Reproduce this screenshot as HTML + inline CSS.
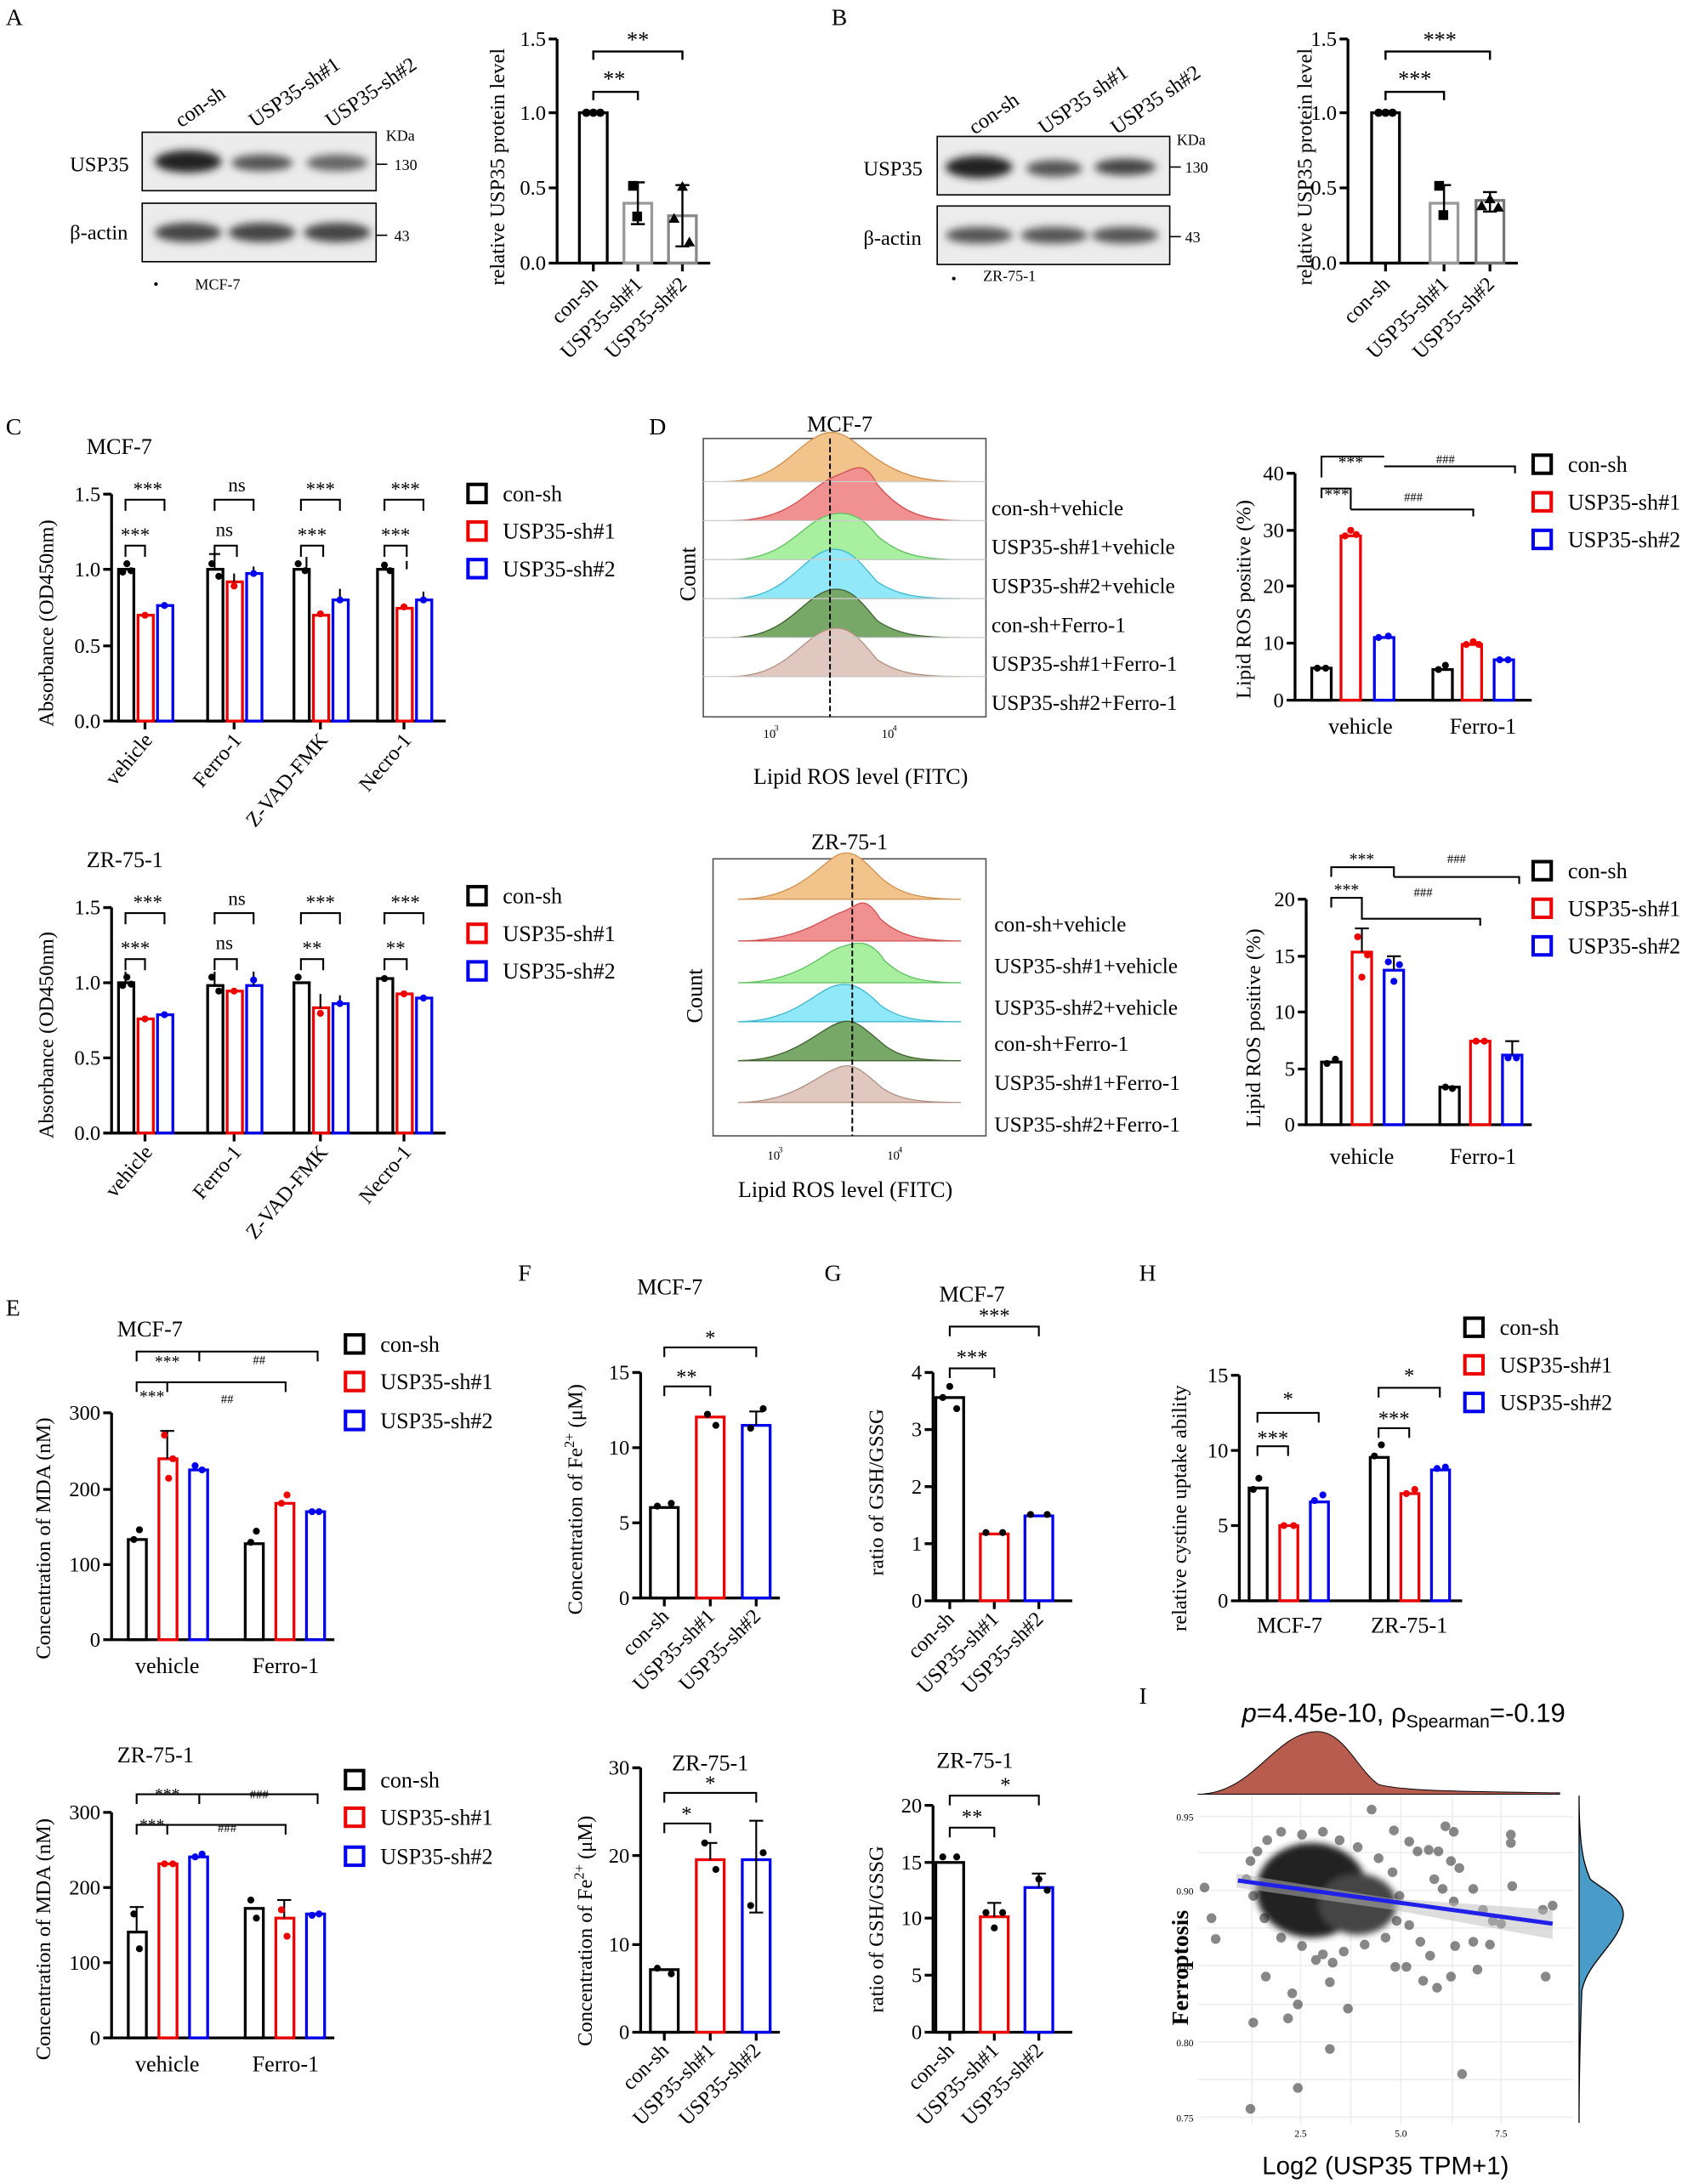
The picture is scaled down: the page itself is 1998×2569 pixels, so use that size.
<!DOCTYPE html>
<html><head><meta charset="utf-8"><style>
html,body{margin:0;padding:0;background:#fff}
svg{display:block}
text{font-family:"Liberation Serif",serif;fill:#000}
.s{font-family:"Liberation Sans",sans-serif}
</style></head><body>
<svg width="1998" height="2569" viewBox="0 0 1220 1569" xmlns="http://www.w3.org/2000/svg">
<defs>
<filter id="bl"><feGaussianBlur stdDeviation="3"/></filter>
<filter id="bl2"><feGaussianBlur stdDeviation="2.5"/></filter>
</defs>
<g font-size="17">
<text x="4" y="18">A</text><text x="597" y="18">B</text><text x="4" y="312">C</text>
<text x="466" y="312">D</text><text x="4" y="945">E</text><text x="372" y="920">F</text>
<text x="592" y="920">G</text><text x="818" y="920">H</text><text x="818" y="1224">I</text>
</g>

<!-- A blot -->
<g font-size="15">
<text transform="translate(130,92) rotate(-35)">con-sh</text>
<text transform="translate(183,92) rotate(-35)">USP35-sh#1</text>
<text transform="translate(238,92) rotate(-35)">USP35-sh#2</text>
<text x="50" y="123">USP35</text><text x="50" y="172">β-actin</text>
<text x="277" y="101" font-size="11">KDa</text><text x="283" y="122" font-size="11">130</text><text x="283" y="173" font-size="11">43</text>
<text x="140" y="208" font-size="11">MCF-7</text><text x="110" y="208" font-size="11">•</text>
</g>
<rect x="102" y="95" width="168" height="42" fill="#ececec" stroke="#000"/>
<rect x="102" y="146" width="168" height="42" fill="#ececec" stroke="#000"/>
<g filter="url(#bl)" fill="#222">
<ellipse cx="135" cy="116" rx="24" ry="8"/><ellipse cx="188" cy="117" rx="22" ry="6" fill="#555"/><ellipse cx="242" cy="117" rx="22" ry="6" fill="#666"/>
<ellipse cx="135" cy="167" rx="24" ry="7" fill="#444"/><ellipse cx="188" cy="167" rx="24" ry="7" fill="#444"/><ellipse cx="242" cy="167" rx="24" ry="7" fill="#444"/>
</g>
<g stroke="#000"><line x1="270" y1="118" x2="278" y2="118"/><line x1="270" y1="169" x2="278" y2="169"/></g>

<!-- A chart -->
<g stroke="#000" stroke-width="2" fill="none">
<path d="M400 28V189H510"/><path d="M394 28H400M394 81H400M394 135H400M394 189H400"/>
<path d="M426 189v6M458 189v6M490 189v6"/>
<rect x="416" y="81" width="20" height="108"/>
<rect x="448" y="146" width="20" height="43" stroke="#999"/>
<rect x="480" y="155" width="20" height="34" stroke="#888"/>
<path d="M458 131v30M453 131h10M453 161h10M490 133v44M485 133h10M485 177h10" stroke-width="1.5"/>
<path d="M426 72v-6h32v6M426 43v-6h64v6" stroke-width="1.5"/>
</g>
<g fill="#000"><circle cx="421" cy="81" r="3"/><circle cx="426" cy="81" r="3"/><circle cx="431" cy="81" r="3"/>
<rect x="451" y="130" width="7" height="7"/><rect x="454" y="152" width="7" height="7"/><polygon points="490,130 494,137 486,137"/><polygon points="484,153 488,160 480,160"/><polygon points="495,170 499,177 491,177"/></g>
<g font-size="15" text-anchor="end"><text x="392" y="33">1.5</text><text x="392" y="86">1.0</text><text x="392" y="140">0.5</text><text x="392" y="194">0.0</text></g>
<text font-size="15" transform="translate(362,205) rotate(-90)">relative USP35 protein level</text>
<text x="441" y="62" font-size="16" text-anchor="middle">**</text><text x="458" y="34" font-size="16" text-anchor="middle">**</text>
<g font-size="15" text-anchor="end"><text transform="translate(430,205) rotate(-45)">con-sh</text><text transform="translate(462,205) rotate(-45)">USP35-sh#1</text><text transform="translate(494,205) rotate(-45)">USP35-sh#2</text></g>

<!-- B blot -->
<g font-size="15">
<text transform="translate(700,97) rotate(-35)">con-sh</text>
<text transform="translate(750,97) rotate(-35)">USP35 sh#1</text>
<text transform="translate(802,97) rotate(-35)">USP35 sh#2</text>
<text x="620" y="126">USP35</text><text x="620" y="176">β-actin</text>
<text x="845" y="104" font-size="11">KDa</text><text x="851" y="124" font-size="11">130</text><text x="851" y="174" font-size="11">43</text>
<text x="706" y="202" font-size="11">ZR-75-1</text><text x="683" y="204" font-size="11">•</text>
</g>
<rect x="673" y="98" width="167" height="42" fill="#ececec" stroke="#000"/>
<rect x="673" y="148" width="167" height="42" fill="#ececec" stroke="#000"/>
<g filter="url(#bl)" fill="#222">
<ellipse cx="703" cy="120" rx="24" ry="8"/><ellipse cx="757" cy="121" rx="20" ry="6" fill="#555"/><ellipse cx="808" cy="120" rx="22" ry="6" fill="#444"/>
<ellipse cx="703" cy="169" rx="24" ry="6" fill="#555"/><ellipse cx="757" cy="169" rx="24" ry="6" fill="#555"/><ellipse cx="808" cy="169" rx="24" ry="6" fill="#555"/>
</g>
<g stroke="#000"><line x1="840" y1="120" x2="848" y2="120"/><line x1="840" y1="170" x2="848" y2="170"/></g>

<!-- B chart -->
<g stroke="#000" stroke-width="2" fill="none">
<path d="M968 28V189H1090"/><path d="M962 28H968M962 81H968M962 135H968M962 189H968"/>
<path d="M995 189v6M1037 189v6M1070 189v6"/>
<rect x="985" y="81" width="20" height="108"/>
<rect x="1027" y="146" width="20" height="43" stroke="#999"/>
<rect x="1060" y="144" width="20" height="45" stroke="#777"/>
<path d="M1037 133v25M1032 133h10M1070 138v14M1065 138h10M1065 152h10" stroke-width="1.5"/>
<path d="M995 72v-6h42v6M995 43v-6h75v6" stroke-width="1.5"/>
</g>
<g fill="#000"><circle cx="990" cy="81" r="3"/><circle cx="995" cy="81" r="3"/><circle cx="1000" cy="81" r="3"/>
<rect x="1030" y="130" width="7" height="7"/><rect x="1033" y="151" width="7" height="7"/><polygon points="1070,139 1074,146 1066,146"/><polygon points="1064,144 1068,151 1060,151"/><polygon points="1076,145 1080,152 1072,152"/></g>
<g font-size="15" text-anchor="end"><text x="960" y="33">1.5</text><text x="960" y="86">1.0</text><text x="960" y="140">0.5</text><text x="960" y="194">0.0</text></g>
<text font-size="15" transform="translate(942,205) rotate(-90)">relative USP35 protein level</text>
<text x="1016" y="62" font-size="16" text-anchor="middle">***</text><text x="1034" y="34" font-size="16" text-anchor="middle">***</text>
<g font-size="15" text-anchor="end"><text transform="translate(999,205) rotate(-45)">con-sh</text><text transform="translate(1041,205) rotate(-45)">USP35-sh#1</text><text transform="translate(1074,205) rotate(-45)">USP35-sh#2</text></g>

<!-- C top -->
<text x="62" y="326" font-size="16">MCF-7</text>
<g stroke="#000" stroke-width="2" fill="none">
<path d="M80 355V518H320"/><path d="M74 355H80M74 409H80M74 464H80M74 518H80"/>
<path d="M104 518v6M168 518v6M230 518v6M290 518v6"/>
<rect x="85" y="409" width="11" height="109"/><rect x="99" y="442" width="11" height="76" stroke="#e00"/><rect x="113" y="435" width="11" height="83" stroke="#00e"/>
<rect x="149" y="409" width="11" height="109"/><rect x="163" y="418" width="11" height="100" stroke="#e00"/><rect x="177" y="412" width="11" height="106" stroke="#00e"/>
<rect x="211" y="409" width="11" height="109"/><rect x="225" y="442" width="11" height="76" stroke="#e00"/><rect x="239" y="431" width="11" height="87" stroke="#00e"/>
<rect x="271" y="409" width="11" height="109"/><rect x="285" y="437" width="11" height="81" stroke="#e00"/><rect x="299" y="431" width="11" height="87" stroke="#00e"/>
<g stroke-width="1.3"><path d="M90 400v-8h14v8M90 367v-8h28v8M154 400v-8h16v8M154 367v-8h28v8M216 400v-8h16v8M216 367v-8h28v8M276 400v-8h16v8M276 367v-8h28v8"/>
<path d="M154 409v-11M150 398h8M168 418v-6M182 412v-5M220 409v-9M292 409v-6M304 431v-6M244 431v-8"/></g>
</g>
<g fill="#000"><circle cx="88" cy="411" r="2.5"/><circle cx="91" cy="405" r="2.5"/><circle cx="94" cy="410" r="2.5"/><circle cx="152" cy="405" r="2.5"/><circle cx="157" cy="414" r="2.5"/><circle cx="214" cy="405" r="2.5"/><circle cx="219" cy="410" r="2.5"/><circle cx="276" cy="406" r="2.5"/><circle cx="280" cy="410" r="2.5"/></g>
<g fill="#e00"><circle cx="104" cy="442" r="2.5"/><circle cx="168" cy="421" r="2.5"/><circle cx="230" cy="441" r="2.5"/><circle cx="290" cy="436" r="2.5"/></g>
<g fill="#00e"><circle cx="118" cy="435" r="2.5"/><circle cx="182" cy="412" r="2.5"/><circle cx="244" cy="431" r="2.5"/><circle cx="304" cy="431" r="2.5"/></g>
<g font-size="15" text-anchor="end"><text x="72" y="360">1.5</text><text x="72" y="414">1.0</text><text x="72" y="469">0.5</text><text x="72" y="523">0.0</text></g>
<text font-size="15" transform="translate(38,522) rotate(-90)">Absorbance (OD450nm)</text>
<g class="s" font-size="14" text-anchor="middle"><text x="97" y="389">***</text><text x="106" y="356">***</text><text x="161" y="385">ns</text><text x="170" y="353">ns</text><text x="224" y="389">***</text><text x="230" y="356">***</text><text x="284" y="389">***</text><text x="291" y="356">***</text></g>
<g font-size="15" text-anchor="end"><text transform="translate(110,532) rotate(-50)">vehicle</text><text transform="translate(174,532) rotate(-50)">Ferro-1</text><text transform="translate(236,532) rotate(-50)">Z-VAD-FMK</text><text transform="translate(296,532) rotate(-50)">Necro-1</text></g>
<g fill="none" stroke-width="2.5"><rect x="336" y="348" width="13" height="13" stroke="#000"/><rect x="336" y="375" width="13" height="13" stroke="#e00"/><rect x="336" y="402" width="13" height="13" stroke="#00e"/>
<rect x="336" y="637" width="13" height="13" stroke="#000"/><rect x="336" y="664" width="13" height="13" stroke="#e00"/><rect x="336" y="691" width="13" height="13" stroke="#00e"/></g>
<g font-size="16"><text x="361" y="360">con-sh</text><text x="361" y="387">USP35-sh#1</text><text x="361" y="414">USP35-sh#2</text>
<text x="361" y="649">con-sh</text><text x="361" y="676">USP35-sh#1</text><text x="361" y="703">USP35-sh#2</text></g>

<!-- C bottom -->
<text x="62" y="623" font-size="16">ZR-75-1</text>
<g stroke="#000" stroke-width="2" fill="none">
<path d="M80 652V814H320"/><path d="M74 652H80M74 706H80M74 760H80M74 814H80"/>
<path d="M104 814v6M168 814v6M230 814v6M290 814v6"/>
<rect x="85" y="706" width="11" height="108"/><rect x="99" y="732" width="11" height="82" stroke="#e00"/><rect x="113" y="729" width="11" height="85" stroke="#00e"/>
<rect x="149" y="708" width="11" height="106"/><rect x="163" y="712" width="11" height="102" stroke="#e00"/><rect x="177" y="708" width="11" height="106" stroke="#00e"/>
<rect x="211" y="706" width="11" height="108"/><rect x="225" y="724" width="11" height="90" stroke="#e00"/><rect x="239" y="721" width="11" height="93" stroke="#00e"/>
<rect x="271" y="703" width="11" height="111"/><rect x="285" y="714" width="11" height="100" stroke="#e00"/><rect x="299" y="717" width="11" height="97" stroke="#00e"/>
<g stroke-width="1.3"><path d="M90 697v-8h14v8M90 664v-8h28v8M154 697v-8h16v8M154 664v-8h28v8M216 697v-8h16v8M216 664v-8h28v8M276 697v-8h16v8M276 664v-8h28v8"/>
<path d="M90 706v-8M154 708v-10M182 708v-10M230 724v-10M244 721v-6"/></g>
</g>
<g fill="#000"><circle cx="88" cy="708" r="2.5"/><circle cx="91" cy="702" r="2.5"/><circle cx="94" cy="707" r="2.5"/><circle cx="152" cy="702" r="2.5"/><circle cx="157" cy="712" r="2.5"/><circle cx="214" cy="702" r="2.5"/><circle cx="276" cy="703" r="2.5"/></g>
<g fill="#e00"><circle cx="104" cy="732" r="2.5"/><circle cx="168" cy="712" r="2.5"/><circle cx="230" cy="728" r="2.5"/><circle cx="290" cy="714" r="2.5"/></g>
<g fill="#00e"><circle cx="118" cy="729" r="2.5"/><circle cx="182" cy="704" r="2.5"/><circle cx="244" cy="721" r="2.5"/><circle cx="304" cy="717" r="2.5"/></g>
<g font-size="15" text-anchor="end"><text x="72" y="657">1.5</text><text x="72" y="711">1.0</text><text x="72" y="765">0.5</text><text x="72" y="819">0.0</text></g>
<text font-size="15" transform="translate(38,818) rotate(-90)">Absorbance (OD450nm)</text>
<g class="s" font-size="14" text-anchor="middle"><text x="97" y="686">***</text><text x="106" y="653">***</text><text x="161" y="682">ns</text><text x="170" y="650">ns</text><text x="224" y="686">**</text><text x="230" y="653">***</text><text x="284" y="686">**</text><text x="291" y="653">***</text></g>
<g font-size="15" text-anchor="end"><text transform="translate(110,828) rotate(-50)">vehicle</text><text transform="translate(174,828) rotate(-50)">Ferro-1</text><text transform="translate(236,828) rotate(-50)">Z-VAD-FMK</text><text transform="translate(296,828) rotate(-50)">Necro-1</text></g>

<!-- D top histograms -->
<text x="603" y="310" font-size="16" text-anchor="middle">MCF-7</text>
<rect x="505" y="315" width="203" height="200" fill="none" stroke="#555"/>
<g stroke-width="0.8">
<path d="M520 346 C560 346 570 320 590 312 C605 306 615 320 630 330 C645 340 660 346 690 346Z" fill="#f2c48c" stroke="#d09050"/>
<path d="M525 374 C570 374 580 350 600 342 C615 336 620 330 630 348 C645 366 660 374 690 374Z" fill="#f09090" stroke="#d05050"/>
<path d="M525 402 C565 402 575 376 595 370 C610 366 620 372 630 385 C645 398 660 402 690 402Z" fill="#a8f0a0" stroke="#60c060"/>
<path d="M525 430 C565 430 575 400 595 395 C610 392 618 405 630 418 C645 428 660 430 690 430Z" fill="#90e8f8" stroke="#40b8d0"/>
<path d="M525 458 C565 458 575 430 595 424 C610 420 618 432 630 446 C645 456 660 458 690 458Z" fill="#78a868" stroke="#406030"/>
<path d="M525 486 C565 486 575 458 595 452 C610 448 618 460 630 474 C645 484 660 486 690 486Z" fill="#e0c8c0" stroke="#b09080"/>
</g>
<g stroke="#ccc" stroke-width="0.8"><path d="M505 346H708M505 374H708M505 402H708M505 430H708M505 458H708M505 486H708"/></g>
<line x1="596" y1="315" x2="596" y2="515" stroke="#000" stroke-width="1.2" stroke-dasharray="4,2"/>
<g font-size="9"><text x="548" y="530">10</text><text x="556" y="525" font-size="6">3</text><text x="633" y="530">10</text><text x="641" y="525" font-size="6">4</text></g>
<text x="618" y="563" font-size="16" text-anchor="middle">Lipid ROS level (FITC)</text>
<text font-size="16" transform="translate(499,432) rotate(-90)">Count</text>
<g font-size="15.5"><text x="712" y="370">con-sh+vehicle</text><text x="712" y="398">USP35-sh#1+vehicle</text><text x="712" y="426">USP35-sh#2+vehicle</text><text x="712" y="454">con-sh+Ferro-1</text><text x="712" y="482">USP35-sh#1+Ferro-1</text><text x="712" y="510">USP35-sh#2+Ferro-1</text></g>

<!-- D top chart -->
<g stroke="#000" stroke-width="2" fill="none">
<path d="M930 340V503H1100"/><path d="M924 340H930M924 381H930M924 421H930M924 462H930M924 503H930"/>
<rect x="942" y="480" width="14" height="23"/><rect x="963" y="385" width="14" height="118" stroke="#e00"/><rect x="987" y="458" width="14" height="45" stroke="#00e"/>
<rect x="1029" y="481" width="14" height="22"/><rect x="1050" y="463" width="14" height="40" stroke="#e00"/><rect x="1073" y="474" width="14" height="29" stroke="#00e"/>
<g stroke-width="1.3"><path d="M949 358v-7h21v7M949 335v-7h45M970 358v8M970 366h88v5M994 335h94v5"/><path d="M949 335v8"/></g>
</g>
<g fill="#000"><circle cx="946" cy="480" r="2.5"/><circle cx="952" cy="480" r="2.5"/><circle cx="1033" cy="481" r="2.5"/><circle cx="1038" cy="478" r="2.5"/></g>
<g fill="#e00"><circle cx="966" cy="385" r="2.5"/><circle cx="970" cy="381" r="2.5"/><circle cx="974" cy="384" r="2.5"/><circle cx="1053" cy="463" r="2.5"/><circle cx="1058" cy="461" r="2.5"/><circle cx="1062" cy="463" r="2.5"/></g>
<g fill="#00e"><circle cx="990" cy="458" r="2.5"/><circle cx="997" cy="457" r="2.5"/><circle cx="1077" cy="474" r="2.5"/><circle cx="1083" cy="474" r="2.5"/></g>
<g font-size="15" text-anchor="end"><text x="922" y="345">40</text><text x="922" y="386">30</text><text x="922" y="426">20</text><text x="922" y="467">10</text><text x="922" y="508">0</text></g>
<text font-size="15" transform="translate(898,502) rotate(-90)">Lipid ROS positive (%)</text>
<g class="s" font-size="12" text-anchor="middle"><text x="960" y="359">***</text><text x="970" y="336">***</text><text x="1015" y="360" font-size="9">###</text><text x="1038" y="333" font-size="9">###</text></g>
<g font-size="16" text-anchor="middle"><text x="977" y="527">vehicle</text><text x="1065" y="527">Ferro-1</text></g>
<g fill="none" stroke-width="2.5"><rect x="1101" y="327" width="13" height="13" stroke="#000"/><rect x="1101" y="354" width="13" height="13" stroke="#e00"/><rect x="1101" y="381" width="13" height="13" stroke="#00e"/>
<rect x="1101" y="619" width="13" height="13" stroke="#000"/><rect x="1101" y="646" width="13" height="13" stroke="#e00"/><rect x="1101" y="673" width="13" height="13" stroke="#00e"/></g>
<g font-size="16"><text x="1126" y="339">con-sh</text><text x="1126" y="366">USP35-sh#1</text><text x="1126" y="393">USP35-sh#2</text>
<text x="1126" y="631">con-sh</text><text x="1126" y="658">USP35-sh#1</text><text x="1126" y="685">USP35-sh#2</text></g>

<!-- D bottom histograms -->
<text x="610" y="610" font-size="16" text-anchor="middle">ZR-75-1</text>
<rect x="512" y="617" width="196" height="199" fill="none" stroke="#555"/>
<g stroke-width="0.8">
<path d="M530 646 C570 646 585 625 600 615 C612 608 620 618 632 630 C645 642 660 646 690 646Z" fill="#f2c48c" stroke="#d09050"/>
<path d="M530 676 C575 676 590 660 605 655 C615 652 620 640 632 660 C645 672 660 676 690 676Z" fill="#f09090" stroke="#d05050"/>
<path d="M530 706 C575 706 590 684 605 680 C615 677 625 674 635 690 C648 702 660 706 690 706Z" fill="#a8f0a0" stroke="#60c060"/>
<path d="M530 734 C570 734 585 712 600 708 C612 705 620 710 632 722 C645 732 660 734 690 734Z" fill="#90e8f8" stroke="#40b8d0"/>
<path d="M530 762 C572 762 588 738 605 734 C615 732 622 740 634 750 C646 760 660 762 690 762Z" fill="#78a868" stroke="#406030"/>
<path d="M530 792 C572 792 588 770 605 766 C615 764 622 772 634 782 C646 790 660 792 690 792Z" fill="#e0c8c0" stroke="#b09080"/>
</g>
<line x1="612" y1="617" x2="612" y2="816" stroke="#000" stroke-width="1.2" stroke-dasharray="4,2"/>
<g font-size="9"><text x="551" y="833">10</text><text x="559" y="828" font-size="6">3</text><text x="637" y="833">10</text><text x="645" y="828" font-size="6">4</text></g>
<text x="607" y="860" font-size="16" text-anchor="middle">Lipid ROS level (FITC)</text>
<text font-size="16" transform="translate(504,735) rotate(-90)">Count</text>
<g font-size="15.5"><text x="714" y="669">con-sh+vehicle</text><text x="714" y="699">USP35-sh#1+vehicle</text><text x="714" y="729">USP35-sh#2+vehicle</text><text x="714" y="755">con-sh+Ferro-1</text><text x="714" y="783">USP35-sh#1+Ferro-1</text><text x="714" y="813">USP35-sh#2+Ferro-1</text></g>

<!-- D bottom chart -->
<g stroke="#000" stroke-width="2" fill="none">
<path d="M938 646V808H1100"/><path d="M932 646H938M932 687H938M932 727H938M932 768H938M932 808H938"/>
<rect x="949" y="763" width="14" height="45"/><rect x="971" y="684" width="14" height="124" stroke="#e00"/><rect x="994" y="697" width="14" height="111" stroke="#00e"/>
<rect x="1034" y="781" width="14" height="27"/><rect x="1056" y="748" width="14" height="60" stroke="#e00"/><rect x="1079" y="758" width="14" height="50" stroke="#00e"/>
<path d="M978 684v-17M973 667h10M1001 697v-10M996 687h10M1086 758v-10M1081 748h10" stroke-width="1.3"/>
<g stroke-width="1.3"><path d="M956 652v-7h22v7M956 630v-7h45v7M978 652v8h85v5M1001 630h90v5"/></g>
</g>
<g fill="#000"><circle cx="953" cy="764" r="2.5"/><circle cx="959" cy="761" r="2.5"/><circle cx="1038" cy="781" r="2.5"/><circle cx="1043" cy="782" r="2.5"/></g>
<g fill="#e00"><circle cx="975" cy="673" r="2.5"/><circle cx="978" cy="702" r="2.5"/><circle cx="982" cy="686" r="2.5"/><circle cx="1060" cy="748" r="2.5"/><circle cx="1066" cy="748" r="2.5"/></g>
<g fill="#00e"><circle cx="997" cy="691" r="2.5"/><circle cx="1001" cy="705" r="2.5"/><circle cx="1005" cy="693" r="2.5"/><circle cx="1083" cy="760" r="2.5"/><circle cx="1089" cy="760" r="2.5"/></g>
<g font-size="15" text-anchor="end"><text x="930" y="651">20</text><text x="930" y="692">15</text><text x="930" y="732">10</text><text x="930" y="773">5</text><text x="930" y="813">0</text></g>
<text font-size="15" transform="translate(905,810) rotate(-90)">Lipid ROS positive (%)</text>
<g class="s" font-size="12" text-anchor="middle"><text x="967" y="643">***</text><text x="978" y="621">***</text><text x="1022" y="644" font-size="9">###</text><text x="1046" y="620" font-size="9">###</text></g>
<g font-size="16" text-anchor="middle"><text x="978" y="836">vehicle</text><text x="1065" y="836">Ferro-1</text></g>

<!-- E top -->
<text x="84" y="960" font-size="16">MCF-7</text>
<g stroke="#000" stroke-width="2" fill="none">
<path d="M80 1015V1178H240"/><path d="M74 1015H80M74 1070H80M74 1124H80M74 1178H80"/>
<rect x="92" y="1106" width="13" height="72"/><rect x="114" y="1048" width="13" height="130" stroke="#e00"/><rect x="136" y="1056" width="13" height="122" stroke="#00e"/>
<rect x="176" y="1109" width="13" height="69"/><rect x="198" y="1080" width="13" height="98" stroke="#e00"/><rect x="220" y="1086" width="13" height="92" stroke="#00e"/>
<path d="M120 1048v-20M115 1028h10" stroke-width="1.3"/>
<g stroke-width="1.3"><path d="M98 1000v-7h22v7M98 978v-7h45v7M120 993h85v7M143 971h85v7"/></g>
</g>
<g fill="#000"><circle cx="96" cy="1106" r="2.5"/><circle cx="100" cy="1099" r="2.5"/><circle cx="180" cy="1108" r="2.5"/><circle cx="184" cy="1100" r="2.5"/></g>
<g fill="#e00"><circle cx="118" cy="1031" r="2.5"/><circle cx="121" cy="1062" r="2.5"/><circle cx="124" cy="1048" r="2.5"/><circle cx="202" cy="1080" r="2.5"/><circle cx="206" cy="1074" r="2.5"/></g>
<g fill="#00e"><circle cx="140" cy="1053" r="2.5"/><circle cx="145" cy="1056" r="2.5"/><circle cx="224" cy="1086" r="2.5"/><circle cx="229" cy="1086" r="2.5"/></g>
<g font-size="15" text-anchor="end"><text x="72" y="1020">300</text><text x="72" y="1075">200</text><text x="72" y="1129">100</text><text x="72" y="1183">0</text></g>
<text font-size="15" transform="translate(36,1192) rotate(-90)">Concentration of MDA (nM)</text>
<g class="s" font-size="12" text-anchor="middle"><text x="109" y="1007">***</text><text x="120" y="982">***</text><text x="163" y="1008" font-size="9">##</text><text x="186" y="980" font-size="9">##</text></g>
<g font-size="16" text-anchor="middle"><text x="120" y="1202">vehicle</text><text x="205" y="1202">Ferro-1</text></g>
<g fill="none" stroke-width="2.5"><rect x="248" y="959" width="13" height="13" stroke="#000"/><rect x="248" y="986" width="13" height="13" stroke="#e00"/><rect x="248" y="1014" width="13" height="13" stroke="#00e"/>
<rect x="248" y="1272" width="13" height="13" stroke="#000"/><rect x="248" y="1299" width="13" height="13" stroke="#e00"/><rect x="248" y="1327" width="13" height="13" stroke="#00e"/></g>
<g font-size="16"><text x="273" y="971">con-sh</text><text x="273" y="998">USP35-sh#1</text><text x="273" y="1026">USP35-sh#2</text>
<text x="273" y="1284">con-sh</text><text x="273" y="1311">USP35-sh#1</text><text x="273" y="1339">USP35-sh#2</text></g>

<!-- E bottom -->
<text x="84" y="1266" font-size="16">ZR-75-1</text>
<g stroke="#000" stroke-width="2" fill="none">
<path d="M80 1302V1464H240"/><path d="M74 1302H80M74 1356H80M74 1410H80M74 1464H80"/>
<rect x="92" y="1388" width="13" height="76"/><rect x="114" y="1339" width="13" height="125" stroke="#e00"/><rect x="136" y="1334" width="13" height="130" stroke="#00e"/>
<rect x="176" y="1371" width="13" height="93"/><rect x="198" y="1378" width="13" height="86" stroke="#e00"/><rect x="220" y="1375" width="13" height="89" stroke="#00e"/>
<path d="M98 1388v-18M93 1370h10M204 1378v-13M199 1365h10" stroke-width="1.3"/>
<g stroke-width="1.3"><path d="M98 1318v-7h22v7M98 1296v-7h45v7M120 1311h85v7M143 1289h85v7"/></g>
</g>
<g fill="#000"><circle cx="96" cy="1375" r="2.5"/><circle cx="100" cy="1400" r="2.5"/><circle cx="180" cy="1365" r="2.5"/><circle cx="184" cy="1378" r="2.5"/></g>
<g fill="#e00"><circle cx="118" cy="1339" r="2.5"/><circle cx="124" cy="1339" r="2.5"/><circle cx="202" cy="1372" r="2.5"/><circle cx="206" cy="1391" r="2.5"/></g>
<g fill="#00e"><circle cx="140" cy="1334" r="2.5"/><circle cx="145" cy="1332" r="2.5"/><circle cx="224" cy="1376" r="2.5"/><circle cx="229" cy="1375" r="2.5"/></g>
<g font-size="15" text-anchor="end"><text x="72" y="1307">300</text><text x="72" y="1361">200</text><text x="72" y="1415">100</text><text x="72" y="1469">0</text></g>
<text font-size="15" transform="translate(36,1480) rotate(-90)">Concentration of MDA (nM)</text>
<g class="s" font-size="12" text-anchor="middle"><text x="109" y="1315">***</text><text x="120" y="1293">***</text><text x="163" y="1316" font-size="9">###</text><text x="186" y="1292" font-size="9">###</text></g>
<g font-size="16" text-anchor="middle"><text x="120" y="1488">vehicle</text><text x="205" y="1488">Ferro-1</text></g>

<!-- F top -->
<text x="481" y="930" font-size="16" text-anchor="middle">MCF-7</text>
<g stroke="#000" stroke-width="2" fill="none">
<path d="M460 986V1148H560"/><path d="M454 986H460M454 1040H460M454 1094H460M454 1148H460"/>
<path d="M477 1148v6M510 1148v6M543 1148v6"/>
<rect x="467" y="1083" width="20" height="65"/><rect x="500" y="1018" width="20" height="130" stroke="#e00"/><rect x="533" y="1024" width="20" height="124" stroke="#00e"/>
<path d="M543 1024v-10M538 1014h10" stroke-width="1.3"/>
<g stroke-width="1.3"><path d="M477 1003v-7h33v7M477 975v-7h66v7"/></g>
</g>
<g fill="#000"><circle cx="472" cy="1082" r="2.5"/><circle cx="482" cy="1080" r="2.5"/><circle cx="508" cy="1016" r="2.5"/><circle cx="514" cy="1024" r="2.5"/><circle cx="539" cy="1026" r="2.5"/><circle cx="548" cy="1012" r="2.5"/></g>
<g font-size="15" text-anchor="end"><text x="452" y="991">15</text><text x="452" y="1045">10</text><text x="452" y="1099">5</text><text x="452" y="1153">0</text></g>
<text font-size="15" transform="translate(418,1160) rotate(-90)">Concentration of Fe<tspan dy="-6" font-size="10">2+</tspan><tspan dy="6"> (μM)</tspan></text>
<g font-size="15" text-anchor="middle"><text x="493" y="994">**</text><text x="510" y="966">*</text></g>
<g font-size="15" text-anchor="end"><text transform="translate(481,1162) rotate(-45)">con-sh</text><text transform="translate(514,1162) rotate(-45)">USP35-sh#1</text><text transform="translate(547,1162) rotate(-45)">USP35-sh#2</text></g>

<!-- F bottom -->
<text x="510" y="1272" font-size="16" text-anchor="middle">ZR-75-1</text>
<g stroke="#000" stroke-width="2" fill="none">
<path d="M460 1270V1460H560"/><path d="M454 1270H460M454 1333H460M454 1397H460M454 1460H460"/>
<path d="M477 1460v6M510 1460v6M543 1460v6"/>
<rect x="467" y="1415" width="20" height="45"/><rect x="500" y="1336" width="20" height="124" stroke="#e00"/><rect x="533" y="1336" width="20" height="124" stroke="#00e"/>
<path d="M510 1336v-12M505 1324h10M543 1336v-28M538 1308h10M543 1336v38M538 1374h10" stroke-width="1.3"/>
<g stroke-width="1.3"><path d="M477 1317v-7h33v7M477 1295v-7h66v7"/></g>
</g>
<g fill="#000"><circle cx="472" cy="1414" r="2.5"/><circle cx="482" cy="1418" r="2.5"/><circle cx="506" cy="1324" r="2.5"/><circle cx="514" cy="1343" r="2.5"/><circle cx="539" cy="1369" r="2.5"/><circle cx="548" cy="1331" r="2.5"/></g>
<g font-size="15" text-anchor="end"><text x="452" y="1275">30</text><text x="452" y="1338">20</text><text x="452" y="1402">10</text><text x="452" y="1465">0</text></g>
<text font-size="15" transform="translate(425,1470) rotate(-90)">Concentration of Fe<tspan dy="-6" font-size="10">2+</tspan><tspan dy="6"> (μM)</tspan></text>
<g font-size="15" text-anchor="middle"><text x="493" y="1308">*</text><text x="510" y="1286">*</text></g>
<g font-size="15" text-anchor="end"><text transform="translate(481,1474) rotate(-45)">con-sh</text><text transform="translate(514,1474) rotate(-45)">USP35-sh#1</text><text transform="translate(547,1474) rotate(-45)">USP35-sh#2</text></g>

<!-- G top -->
<text x="698" y="935" font-size="16" text-anchor="middle">MCF-7</text>
<g stroke="#000" stroke-width="2" fill="none">
<path d="M670 986V1150H770"/><path d="M664 986H670M664 1027H670M664 1068H670M664 1109H670M664 1150H670"/>
<path d="M682 1150v6M714 1150v6M746 1150v6"/>
<rect x="672" y="1004" width="20" height="146"/><rect x="704" y="1102" width="20" height="48" stroke="#e00"/><rect x="736" y="1089" width="20" height="61" stroke="#00e"/>
<g stroke-width="1.3"><path d="M682 990v-7h32v7M682 960v-7h64v7"/></g>
</g>
<g fill="#000"><circle cx="677" cy="1004" r="2.5"/><circle cx="682" cy="996" r="2.5"/><circle cx="687" cy="1012" r="2.5"/><circle cx="708" cy="1101" r="2.5"/><circle cx="720" cy="1101" r="2.5"/><circle cx="740" cy="1088" r="2.5"/><circle cx="752" cy="1088" r="2.5"/></g>
<g font-size="15" text-anchor="end"><text x="662" y="991">4</text><text x="662" y="1032">3</text><text x="662" y="1073">2</text><text x="662" y="1114">1</text><text x="662" y="1155">0</text></g>
<text font-size="15" transform="translate(634,1132) rotate(-90)">ratio of GSH/GSSG</text>
<g font-size="15" text-anchor="middle"><text x="698" y="980">***</text><text x="714" y="950">***</text></g>
<g font-size="15" text-anchor="end"><text transform="translate(686,1164) rotate(-45)">con-sh</text><text transform="translate(718,1164) rotate(-45)">USP35-sh#1</text><text transform="translate(750,1164) rotate(-45)">USP35-sh#2</text></g>

<!-- G bottom -->
<text x="700" y="1270" font-size="16" text-anchor="middle">ZR-75-1</text>
<g stroke="#000" stroke-width="2" fill="none">
<path d="M670 1297V1460H770"/><path d="M664 1297H670M664 1338H670M664 1378H670M664 1419H670M664 1460H670"/>
<path d="M682 1460v6M714 1460v6M746 1460v6"/>
<rect x="672" y="1338" width="20" height="122"/><rect x="704" y="1377" width="20" height="83" stroke="#e00"/><rect x="736" y="1356" width="20" height="104" stroke="#00e"/>
<path d="M714 1377v-10M709 1367h10M746 1356v-10M741 1346h10" stroke-width="1.3"/>
<g stroke-width="1.3"><path d="M682 1320v-7h32v7M682 1297v-7h64v7"/></g>
</g>
<g fill="#000"><circle cx="677" cy="1334" r="2.5"/><circle cx="687" cy="1334" r="2.5"/><circle cx="708" cy="1374" r="2.5"/><circle cx="720" cy="1374" r="2.5"/><circle cx="714" cy="1385" r="2.5"/><circle cx="746" cy="1350" r="2.5"/><circle cx="752" cy="1358" r="2.5"/></g>
<g font-size="15" text-anchor="end"><text x="662" y="1302">20</text><text x="662" y="1343">15</text><text x="662" y="1383">10</text><text x="662" y="1424">5</text><text x="662" y="1465">0</text></g>
<text font-size="15" transform="translate(634,1446) rotate(-90)">ratio of GSH/GSSG</text>
<g font-size="15" text-anchor="middle"><text x="698" y="1310">**</text><text x="722" y="1287">*</text></g>
<g font-size="15" text-anchor="end"><text transform="translate(686,1474) rotate(-45)">con-sh</text><text transform="translate(718,1474) rotate(-45)">USP35-sh#1</text><text transform="translate(750,1474) rotate(-45)">USP35-sh#2</text></g>

<!-- H -->
<g stroke="#000" stroke-width="2" fill="none">
<path d="M890 988V1150H1050"/><path d="M884 988H890M884 1042H890M884 1096H890M884 1150H890"/>
<rect x="897" y="1069" width="13" height="81"/><rect x="919" y="1096" width="13" height="54" stroke="#e00"/><rect x="941" y="1079" width="13" height="71" stroke="#00e"/>
<rect x="984" y="1047" width="13" height="103"/><rect x="1006" y="1073" width="13" height="77" stroke="#e00"/><rect x="1028" y="1056" width="13" height="94" stroke="#00e"/>
<g stroke-width="1.3"><path d="M903 1046v-7h22v7M903 1022v-7h44v7M990 1033v-7h22v7M990 1004v-7h44v7"/></g>
</g>
<g fill="#000"><circle cx="900" cy="1070" r="2.5"/><circle cx="904" cy="1062" r="2.5"/><circle cx="987" cy="1046" r="2.5"/><circle cx="992" cy="1038" r="2.5"/></g>
<g fill="#e00"><circle cx="922" cy="1096" r="2.5"/><circle cx="929" cy="1096" r="2.5"/><circle cx="1010" cy="1073" r="2.5"/><circle cx="1016" cy="1070" r="2.5"/></g>
<g fill="#00e"><circle cx="944" cy="1078" r="2.5"/><circle cx="950" cy="1074" r="2.5"/><circle cx="1032" cy="1055" r="2.5"/><circle cx="1038" cy="1054" r="2.5"/></g>
<g font-size="15" text-anchor="end"><text x="882" y="993">15</text><text x="882" y="1047">10</text><text x="882" y="1101">5</text><text x="882" y="1155">0</text></g>
<text font-size="15" transform="translate(852,1172) rotate(-90)">relative cystine uptake ability</text>
<g font-size="15" text-anchor="middle"><text x="914" y="1038">***</text><text x="925" y="1010">*</text><text x="1001" y="1024">***</text><text x="1012" y="993">*</text></g>
<g font-size="16" text-anchor="middle"><text x="926" y="1173">MCF-7</text><text x="1012" y="1173">ZR-75-1</text></g>
<g fill="none" stroke-width="2.5"><rect x="1052" y="947" width="13" height="13" stroke="#000"/><rect x="1052" y="974" width="13" height="13" stroke="#e00"/><rect x="1052" y="1001" width="13" height="13" stroke="#00e"/></g>
<g font-size="16"><text x="1077" y="959">con-sh</text><text x="1077" y="986">USP35-sh#1</text><text x="1077" y="1013">USP35-sh#2</text></g>

<!-- I -->
<text class="s" x="1008" y="1237" font-size="19" text-anchor="middle"><tspan font-style="italic">p</tspan>=4.45e-10, ρ<tspan font-size="13" dy="4">Spearman</tspan><tspan dy="-4">=-0.19</tspan></text>
<path d="M860 1289 C900 1289 915 1245 945 1244 C965 1243 975 1272 990 1282 C1010 1287 1050 1287 1120 1288 L1120 1289Z" fill="#b85c50" stroke="#000" stroke-width="0.6"/>
<path d="M1134 1290 C1134 1330 1138 1340 1142 1350 C1150 1357 1170 1365 1165 1380 C1160 1398 1140 1410 1136 1430 C1134 1480 1134 1520 1134 1525Z" fill="#4a9cc8" stroke="#000" stroke-width="0.8"/>
<g stroke="#eee" stroke-width="1"><path d="M899 1290V1526M934 1290V1526M970 1290V1526M1006 1290V1526M1043 1290V1526M1078 1290V1526M860 1305H1130M860 1331H1130M860 1358H1130M860 1385H1130M860 1412H1130M860 1440H1130M860 1467H1130M860 1494H1130M860 1521H1130"/></g>
<g filter="url(#bl2)"><ellipse cx="942" cy="1358" rx="40" ry="34" fill="#222"/><ellipse cx="975" cy="1368" rx="28" ry="22" fill="#444"/></g>
<g fill="#111" opacity="0.5">
<circle cx="898" cy="1337" r="3.5"/><circle cx="903" cy="1330" r="3.5"/><circle cx="910" cy="1322" r="3.5"/><circle cx="920" cy="1316" r="3.5"/><circle cx="935" cy="1318" r="3.5"/><circle cx="950" cy="1316" r="3.5"/><circle cx="962" cy="1322" r="3.5"/><circle cx="975" cy="1327" r="3.5"/><circle cx="990" cy="1335" r="3.5"/><circle cx="1000" cy="1345" r="3.5"/><circle cx="1005" cy="1362" r="3.5"/><circle cx="1003" cy="1380" r="3.5"/><circle cx="995" cy="1392" r="3.5"/><circle cx="980" cy="1397" r="3.5"/><circle cx="965" cy="1402" r="3.5"/><circle cx="950" cy="1404" r="3.5"/><circle cx="935" cy="1398" r="3.5"/><circle cx="920" cy="1392" r="3.5"/><circle cx="908" cy="1378" r="3.5"/><circle cx="900" cy="1362" r="3.5"/><circle cx="895" cy="1350" r="3.5"/><circle cx="957" cy="1410" r="3.5"/><circle cx="945" cy="1408" r="3.5"/><circle cx="985" cy="1300" r="3.5"/>
<circle cx="870" cy="1378" r="3.5"/><circle cx="865" cy="1356" r="3.5"/><circle cx="873" cy="1393" r="3.5"/><circle cx="928" cy="1432" r="3.5"/><circle cx="932" cy="1440" r="3.5"/><circle cx="955" cy="1424" r="3.5"/><circle cx="925" cy="1450" r="3.5"/><circle cx="955" cy="1472" r="3.5"/><circle cx="968" cy="1443" r="3.5"/><circle cx="909" cy="1420" r="3.5"/><circle cx="900" cy="1453" r="3.5"/>
<circle cx="1001" cy="1315" r="3.5"/><circle cx="1012" cy="1323" r="3.5"/><circle cx="1018" cy="1330" r="3.5"/><circle cx="1026" cy="1329" r="3.5"/><circle cx="1033" cy="1330" r="3.5"/><circle cx="1038" cy="1312" r="3.5"/><circle cx="1044" cy="1316" r="3.5"/><circle cx="1042" cy="1337" r="3.5"/><circle cx="1048" cy="1342" r="3.5"/><circle cx="1030" cy="1350" r="3.5"/><circle cx="1036" cy="1357" r="3.5"/><circle cx="1044" cy="1366" r="3.5"/><circle cx="1058" cy="1357" r="3.5"/><circle cx="1065" cy="1372" r="3.5"/><circle cx="1072" cy="1380" r="3.5"/><circle cx="1078" cy="1382" r="3.5"/><circle cx="1086" cy="1355" r="3.5"/><circle cx="1085" cy="1318" r="3.5"/><circle cx="1085" cy="1324" r="3.5"/><circle cx="1012" cy="1383" r="3.5"/><circle cx="1020" cy="1395" r="3.5"/><circle cx="1027" cy="1405" r="3.5"/><circle cx="1045" cy="1398" r="3.5"/><circle cx="1058" cy="1395" r="3.5"/><circle cx="1061" cy="1415" r="3.5"/><circle cx="1010" cy="1413" r="3.5"/><circle cx="1002" cy="1413" r="3.5"/><circle cx="1022" cy="1423" r="3.5"/><circle cx="1032" cy="1428" r="3.5"/><circle cx="1042" cy="1420" r="3.5"/><circle cx="1070" cy="1397" r="3.5"/><circle cx="1110" cy="1420" r="3.5"/><circle cx="1115" cy="1369" r="3.5"/><circle cx="1050" cy="1490" r="3.5"/><circle cx="932" cy="1500" r="3.5"/><circle cx="898" cy="1515" r="3.5"/><circle cx="1108" cy="1372" r="3.5"/>
</g>
<path d="M888 1346 L1000 1364 L1115 1372 L1115 1393 L1000 1372 L888 1356Z" fill="#bbb" opacity="0.5"/>
<path d="M889 1351 L1115 1382" stroke="#2020e8" stroke-width="3"/>
<g class="s" font-size="7" fill="#444" text-anchor="end"><text x="857" y="1308">0.95</text><text x="857" y="1361">0.90</text><text x="857" y="1415">0.85</text><text x="857" y="1470">0.80</text><text x="857" y="1524">0.75</text></g>
<g class="s" font-size="7" fill="#444" text-anchor="middle"><text x="934" y="1535">2.5</text><text x="1006" y="1535">5.0</text><text x="1078" y="1535">7.5</text></g>
<text font-size="17" font-weight="bold" transform="translate(853,1455) rotate(-90)">Ferroptosis</text>
<text class="s" x="995" y="1562" font-size="18" text-anchor="middle">Log2 (USP35 TPM+1)</text>
</svg>
</body></html>
